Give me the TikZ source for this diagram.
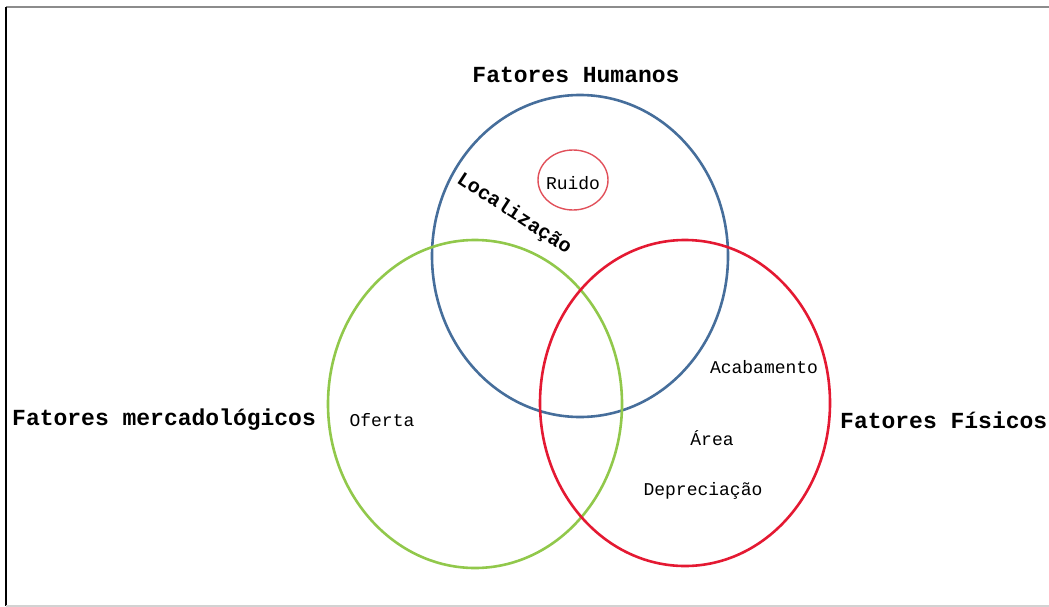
\documentclass[tikz,border=0pt]{standalone}
\usepackage{fontspec}
\setmainfont{Liberation Mono}
\usetikzlibrary{shapes.geometric}
\definecolor{cblue}{RGB}{70,110,155}
\definecolor{cgreen}{RGB}{145,200,75}
\definecolor{cred}{RGB}{228,25,50}
\definecolor{cpink}{RGB}{225,80,90}
\tikzset{
  setcircle/.style={draw, ellipse, inner sep=0pt, line width=2.6pt},
  biglabel/.style={font=\fontsize{23}{26}\selectfont\bfseries, inner sep=0pt},
  item/.style={font=\fontsize{18}{21}\selectfont, inner sep=0pt},
}
\begin{document}
\begin{tikzpicture}[x=1pt,y=-1pt]
\useasboundingbox (0,0) rectangle (1049,607);
\draw[gray!90, line width=1.5pt] (6,7) -- (1049,7);
\draw[black, line width=1.5pt] (6,7) -- (6,606);
\draw[gray!35, line width=1.2pt] (6,606) -- (1049,606);
\node[setcircle, cblue, minimum width=296pt, minimum height=322pt] (hum) at (580,256) {};
\node[setcircle, cgreen, minimum width=294pt, minimum height=328pt] (mer) at (475,404) {};
\node[setcircle, cred, minimum width=290pt, minimum height=326pt] (fis) at (685,403) {};
\node[draw, cpink, ellipse, line width=1.4pt, minimum width=70pt, minimum height=60pt, inner sep=0pt] (ruido) at (573,180) {};
\node[item] (ruidot) at (573,183) {Ruido};
\node[biglabel] (fh) at (576,75) {Fatores Humanos};
\node[biglabel, font=\fontsize{20}{23}\selectfont\bfseries, rotate=-33] (loc) at (514,214) {Localização};
\node[biglabel, anchor=west] (fm) at (12,420) {Fatores mercadológicos};
\node[item] (of) at (382,420) {Oferta};
\node[biglabel, anchor=west] (ff) at (840,420) {Fatores Físicos};
\node[item] (ac) at (764,367) {Acabamento};
\node[item] (ar) at (712,438) {Área};
\node[item] (de) at (703,491) {Depreciação};
\end{tikzpicture}
\end{document}
